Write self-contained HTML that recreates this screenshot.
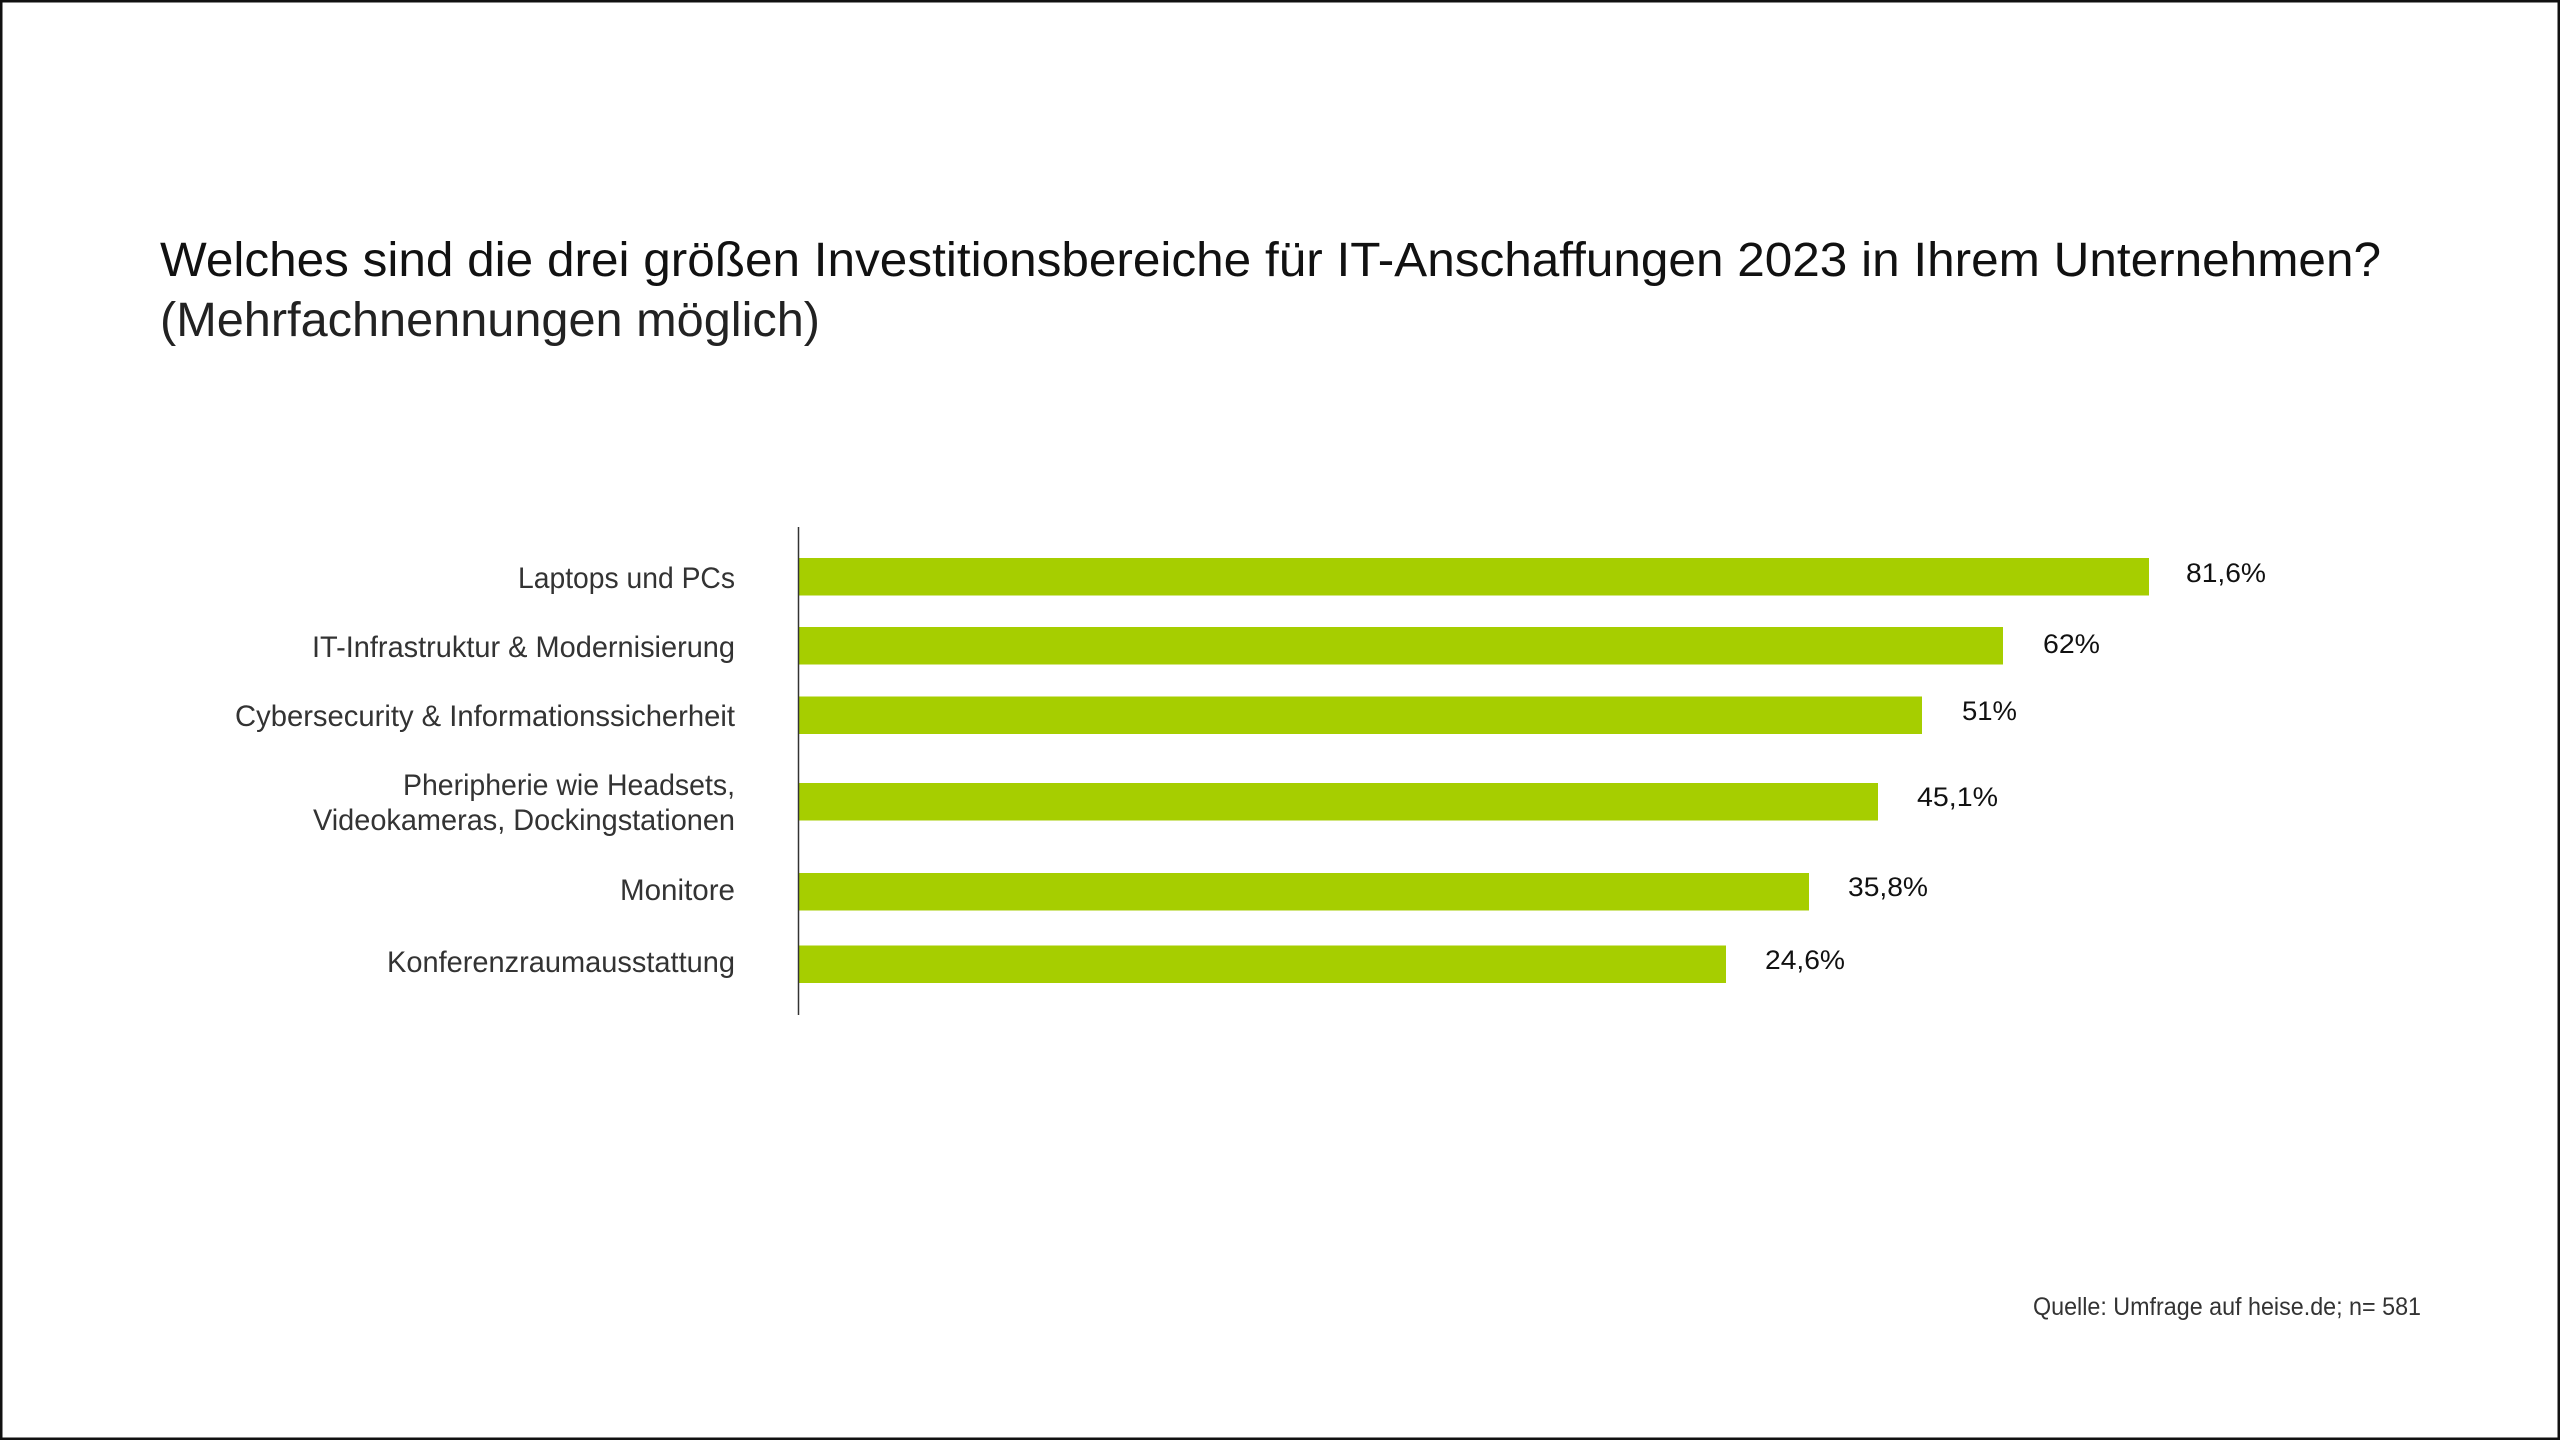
<!DOCTYPE html>
<html><head><meta charset="utf-8"><style>
html,body{margin:0;padding:0;background:#fff;}
svg{display:block;}
</style></head><body>
<svg width="2560" height="1440" viewBox="0 0 2560 1440" xmlns="http://www.w3.org/2000/svg" font-family="'Liberation Sans', sans-serif">
<rect x="1" y="1" width="2558" height="1438" fill="#fff" stroke="#111" stroke-width="3"/>
<text x="160" y="276" font-size="48" fill="#111" textLength="2221" lengthAdjust="spacingAndGlyphs">Welches sind die drei größen Investitionsbereiche für IT-Anschaffungen 2023 in Ihrem Unternehmen?</text>
<text x="160" y="336" font-size="48" fill="#222" textLength="660" lengthAdjust="spacingAndGlyphs">(Mehrfachnennungen möglich)</text>
<g fill="#a6ce00">
<rect x="798" y="558" width="1351" height="37.5"/>
<rect x="798" y="627" width="1205" height="37.5"/>
<rect x="798" y="696.5" width="1124" height="37.5"/>
<rect x="798" y="783" width="1080" height="37.5"/>
<rect x="798" y="873" width="1011" height="37.5"/>
<rect x="798" y="945.5" width="928" height="37.5"/>
</g>
<line x1="798.5" y1="527" x2="798.5" y2="1015" stroke="#333" stroke-width="1.5"/>
<g font-size="30" fill="#333" text-anchor="end">
<text x="735" y="588" textLength="217" lengthAdjust="spacingAndGlyphs">Laptops und PCs</text>
<text x="735" y="657" textLength="423" lengthAdjust="spacingAndGlyphs">IT-Infrastruktur &amp; Modernisierung</text>
<text x="735" y="726" textLength="500" lengthAdjust="spacingAndGlyphs">Cybersecurity &amp; Informationssicherheit</text>
<text x="735" y="795" textLength="332" lengthAdjust="spacingAndGlyphs">Pheripherie wie Headsets,</text>
<text x="735" y="830" textLength="422" lengthAdjust="spacingAndGlyphs">Videokameras, Dockingstationen</text>
<text x="735" y="900" textLength="115" lengthAdjust="spacingAndGlyphs">Monitore</text>
<text x="735" y="972" textLength="348" lengthAdjust="spacingAndGlyphs">Konferenzraumausstattung</text>
</g>
<g font-size="27" fill="#111">
<text x="2186" y="582" textLength="80" lengthAdjust="spacingAndGlyphs">81,6%</text>
<text x="2043" y="653" textLength="57" lengthAdjust="spacingAndGlyphs">62%</text>
<text x="1962" y="720" textLength="55" lengthAdjust="spacingAndGlyphs">51%</text>
<text x="1917" y="806" textLength="81" lengthAdjust="spacingAndGlyphs">45,1%</text>
<text x="1848" y="896" textLength="80" lengthAdjust="spacingAndGlyphs">35,8%</text>
<text x="1765" y="969" textLength="80" lengthAdjust="spacingAndGlyphs">24,6%</text>
</g>
<text x="2033" y="1315" font-size="25" fill="#333" textLength="388" lengthAdjust="spacingAndGlyphs">Quelle: Umfrage auf heise.de; n= 581</text>
</svg>
</body></html>
